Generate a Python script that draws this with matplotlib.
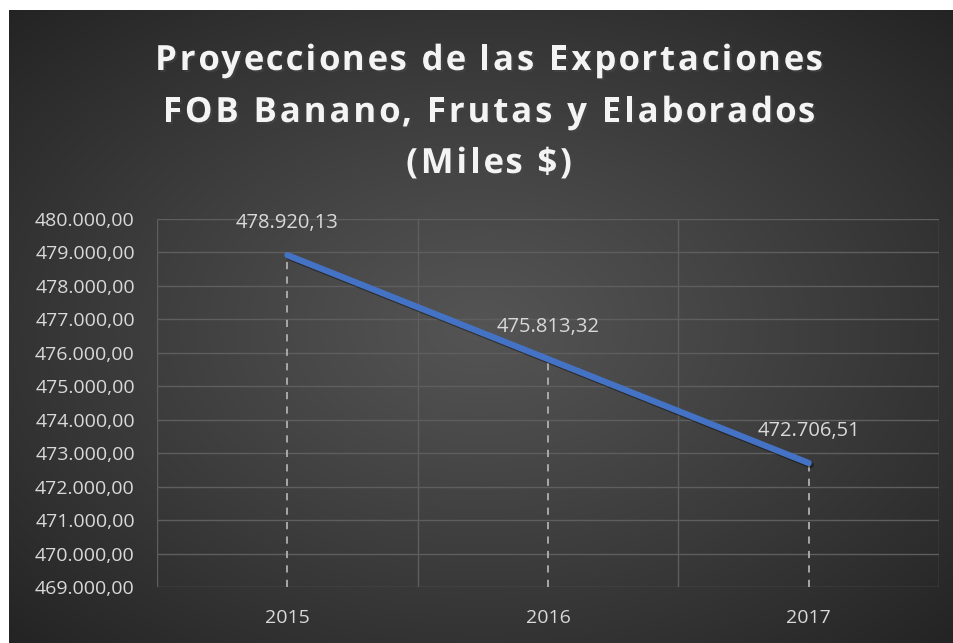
import numpy as np
import matplotlib
matplotlib.use('Agg')
import matplotlib.pyplot as plt
from matplotlib.ticker import FuncFormatter, MultipleLocator
import matplotlib.patheffects as pe

# Data
years = ['2015', '2016', '2017']
values = [478920.13, 475813.32, 472706.51]
y_min, y_max, y_step = 469000, 480000, 1000
title_lines = ['Proyecciones de las Exportaciones',
               'FOB Banano, Frutas y Elaborados',
               '(Miles $)']

plt.rcParams['font.family'] = ['Open Sans', 'DejaVu Sans']
txt_color = '#d9d9d9'
W, H = 954, 643

def fmt_es(v, pos=None):
    s = f'{v:,.2f}'
    return s.replace(',', '#').replace('.', ',').replace('#', '.')

fig = plt.figure(figsize=(W / 100, H / 100), dpi=100)
fig.patch.set_facecolor('white')

# Radial gradient background
bg = fig.add_axes([9 / W, 0, 1 - 9 / W, 1 - 10 / H])
gx, gy = np.meshgrid(np.linspace(-1, 1, 400), np.linspace(-1, 1, 300))
r = np.sqrt(gx ** 2 + gy ** 2) / np.sqrt(2)
shade = 0.33 - 0.19 * np.clip(r, 0, 1) ** 1.1
bg.imshow(np.dstack([shade, shade, shade]), aspect='auto', extent=[0, 1, 0, 1],
          interpolation='bilinear')
bg.set_axis_off()

ax = fig.add_axes([157 / W, 1 - 587 / H, (939 - 157) / W, (587 - 219) / H])
ax.set_facecolor('none')
x = np.arange(len(years))

ax.set_xlim(-0.5, len(years) - 0.5)
ax.set_ylim(y_min, y_max)
ax.yaxis.set_major_locator(MultipleLocator(y_step))
ax.yaxis.set_major_formatter(FuncFormatter(fmt_es))
ax.set_xticks(x)
ax.set_xticklabels(years)
ax.set_xticks(np.arange(len(years) + 1) - 0.5, minor=True)

grid_color = '#5e5e5e'
ax.grid(axis='y', which='major', color=grid_color, linewidth=1)
ax.grid(axis='x', which='minor', color=grid_color, linewidth=1)
for s in ax.spines.values():
    s.set_visible(False)
ax.tick_params(which='both', length=0, colors=txt_color, labelsize=14)
ax.tick_params(axis='y', pad=16)
ax.tick_params(axis='x', pad=16)

# drop lines
ax.vlines(x, y_min, values, colors='#b0b0b0', linestyles=(0, (4, 4)), linewidth=1.3, zorder=3)

ax.plot(x, values, color='#4472C4', linewidth=4.5, solid_capstyle='round', zorder=4,
        path_effects=[pe.SimpleLineShadow(offset=(1.5, -1.5), alpha=0.4), pe.Normal()])

for xi, v in zip(x, values):
    ax.annotate(fmt_es(v), (xi, v), xytext=(0, 23), textcoords='offset points',
                ha='center', va='center', color=txt_color, fontsize=14.5, zorder=5)

# Title with letter spacing, drawn char by char
renderer = fig.canvas.get_renderer()
tprops = dict(fontsize=25, fontweight='bold', color='#f4f4f4')

def text_w(s):
    t = fig.text(0, 0, s, **tprops)
    w = t.get_window_extent(renderer).width
    t.remove()
    return w

base_w = text_w('xx')
spacing = 2.9
baselines = [70, 122, 173]
cx = 489
for line, yb in zip(title_lines, baselines):
    adv = [text_w('x' + c + 'x') - base_w for c in line]
    total = sum(adv) + spacing * (len(line) - 1)
    xp = cx - total / 2
    for c, a in zip(line, adv):
        if c != ' ':
            fig.text(xp / W, 1 - yb / H, c, ha='left', va='baseline', **tprops,
                     path_effects=[pe.withSimplePatchShadow(offset=(1.5, -1.5), alpha=0.5)])
        xp += a + spacing

fig.savefig('out.png', dpi=100)
